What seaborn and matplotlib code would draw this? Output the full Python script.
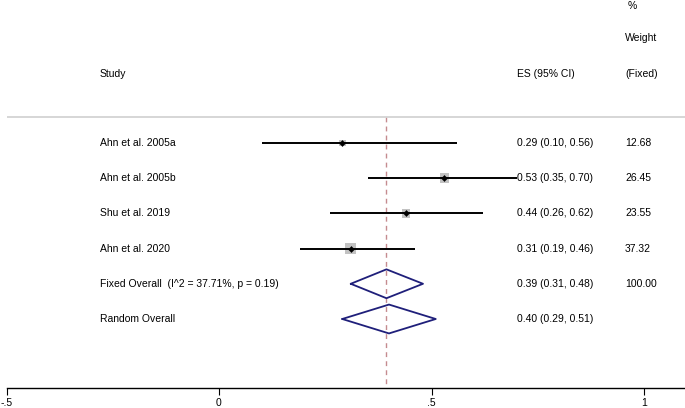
import numpy as np
import pandas as pd
import matplotlib
matplotlib.use("Agg")
import matplotlib.pyplot as plt
import matplotlib.transforms as mtransforms
import seaborn as sns

# study level data
studies = ["Ahn et al. 2005a", "Ahn et al. 2005b", "Shu et al. 2019", "Ahn et al. 2020"]
es = [0.29, 0.53, 0.44, 0.31]
ci_lo = [0.10, 0.35, 0.26, 0.19]
ci_hi = [0.56, 0.70, 0.62, 0.46]
weights = [12.68, 26.45, 23.55, 37.32]

# pooled estimates
pooled_labels = ["Fixed Overall  (I^2 = 37.71%, p = 0.19)", "Random Overall"]
pooled_es = [0.394, 0.40]
pooled_lo = [0.31, 0.29]
pooled_hi = [0.48, 0.51]
pooled_weights = ["100.00", ""]

tick_vals = [-0.5, 0, 0.5, 1]
tick_labels = ["-.5", "0", ".5", "1"]

sns.set_style("white")
plt.rcParams["font.family"] = ["Liberation Sans", "DejaVu Sans"]
plt.rcParams["text.color"] = "black"
plt.rcParams["xtick.color"] = "black"
FS = 7.5

df = pd.DataFrame({"study": studies, "es": es, "lo": ci_lo, "hi": ci_hi, "w": weights})
df["row"] = np.arange(1, len(df) + 1)

fig = plt.figure(figsize=(6.85, 4.08), dpi=100)
ax = fig.add_axes([0, 20 / 408, 1, 388 / 408])

x_left, x_right = -219 / 425, (685 - 219) / 425
y_bottom, y_top = 7.96, -3.06
ax.set_xlim(x_left, x_right)
ax.set_ylim(y_bottom, y_top)

# header separator and reference line
ax.hlines(0.26, -0.5, x_right, color="#d0d0d0", lw=1.2)
ax.vlines(pooled_es[0], 0.26, y_bottom, color="#c58b8f", lw=1.0,
          linestyles=(0, (3.5, 3)), zorder=1)

# weight boxes (area proportional to weight)
ax.scatter(df["es"], df["row"], marker="s", s=df["w"] * 1.75,
           color="#c2c2c2", edgecolors="none", zorder=2)
ax.hlines(df["row"], df["lo"], df["hi"], color="black", lw=1.4, zorder=3)
sns.scatterplot(data=df, x="es", y="row", marker="D", s=10,
                color="black", edgecolor="black", ax=ax, zorder=4, legend=False)

# pooled diamonds
for i in range(len(pooled_es)):
    r = len(df) + 1 + i
    xs = [pooled_lo[i], pooled_es[i], pooled_hi[i], pooled_es[i], pooled_lo[i]]
    ys = [r, r - 0.41, r, r + 0.41, r]
    ax.plot(xs, ys, color="#1f1f7a", lw=1.3, zorder=3)

# text columns
trans = mtransforms.blended_transform_factory(ax.transAxes, ax.transData)
x_study, x_es, x_w = 100 / 685, 517 / 685, 625 / 685

ax.text(x_study, -0.97, "Study", transform=trans, fontsize=FS, va="center")
ax.text(x_es, -0.97, "ES (95% CI)", transform=trans, fontsize=FS, va="center")
ax.text(x_w, -0.97, "(Fixed)", transform=trans, fontsize=FS, va="center")
ax.text(x_w, -1.97, "Weight", transform=trans, fontsize=FS, va="center")
ax.text(x_w + 0.004, -2.9, "%", transform=trans, fontsize=FS, va="center")

for _, row in df.iterrows():
    ax.text(x_study, row["row"], row["study"], transform=trans, fontsize=FS, va="center")
    ax.text(x_es, row["row"], f"{row['es']:.2f} ({row['lo']:.2f}, {row['hi']:.2f})",
            transform=trans, fontsize=FS, va="center")
    ax.text(x_w, row["row"], f"{row['w']:.2f}", transform=trans, fontsize=FS, va="center")

for i, lab in enumerate(pooled_labels):
    r = len(df) + 1 + i
    ax.text(x_study, r, lab, transform=trans, fontsize=FS, va="center")
    ax.text(x_es, r, f"{round(pooled_es[i], 2):.2f} ({pooled_lo[i]:.2f}, {pooled_hi[i]:.2f})",
            transform=trans, fontsize=FS, va="center")
    ax.text(x_w, r, pooled_weights[i], transform=trans, fontsize=FS, va="center")

# axis styling
for side in ["top", "left", "right"]:
    ax.spines[side].set_visible(False)
ax.spines["bottom"].set_bounds(-0.5, x_right)
ax.spines["bottom"].set_color("black")
ax.spines["bottom"].set_linewidth(1.0)
ax.set_yticks([])
ax.set_xticks(tick_vals)
ax.set_xticklabels(tick_labels, fontsize=FS)
ax.tick_params(axis="x", bottom=True, direction="out", length=5, width=0.8,
               pad=2.5, colors="black")
ax.set_xlabel("")
ax.set_ylabel("")

fig.savefig("out.png", dpi=100)
plt.close(fig)
